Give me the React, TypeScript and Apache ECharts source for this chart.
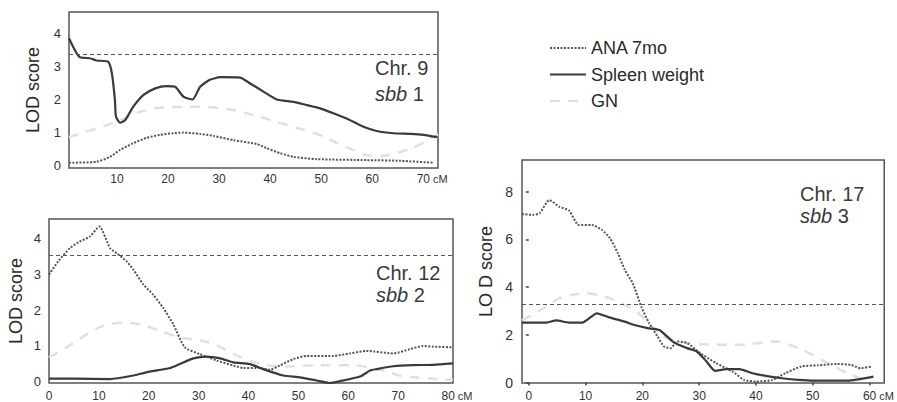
import React, { useEffect, useRef } from "react";
import * as echarts from "echarts";

const FONT = "'Liberation Sans', Arial, Helvetica, sans-serif";

const seriesNames = ["ANA 7mo", "Spleen weight", "GN"];

// Chr. 9 (sbb 1)
const chr9Spleen = [
  [0.6, 3.87], [2.7, 3.29], [4.7, 3.26], [6, 3.19], [8.3, 3.15], [9.0, 2.8], [9.6, 1.98], [9.8, 1.48],
  [10.6, 1.29], [11.6, 1.37], [13.2, 1.78], [15.2, 2.14], [17.5, 2.34], [19.7, 2.41], [21.4, 2.39],
  [23, 2.09], [24.8, 2.0], [26.3, 2.39], [28.2, 2.6], [30.2, 2.68], [34.1, 2.67], [36.1, 2.49],
  [38.7, 2.24], [41.3, 2.0], [44.6, 1.93], [47.2, 1.83], [49.8, 1.73], [52.4, 1.58], [55.7, 1.37],
  [58.3, 1.17], [60.9, 1.04], [64.2, 0.97], [67.5, 0.95], [70.1, 0.92], [72.7, 0.85],
];
const chr9Ana = [
  [0.6, 0.07], [6.0, 0.1], [8.6, 0.25], [10.6, 0.46], [13.1, 0.66], [15.8, 0.83], [18.4, 0.92],
  [21, 0.97], [23, 0.99], [26.3, 0.95], [28.9, 0.89], [32.8, 0.76], [37.4, 0.64], [39.4, 0.51],
  [42, 0.36], [44.6, 0.25], [49.2, 0.18], [59, 0.15], [65.5, 0.13], [72, 0.07],
];
const chr9Gn = [
  [0.6, 0.85], [4, 1.02], [8, 1.22], [12, 1.45], [15, 1.65], [20, 1.77], [26, 1.78], [32, 1.7],
  [37, 1.52], [42, 1.28], [46, 1.1], [50, 0.9], [53, 0.68], [56, 0.48], [59, 0.3], [62, 0.28],
  [65, 0.38], [68, 0.52], [72.9, 0.95],
];
const chr9Threshold = 3.39;

// Chr. 12 (sbb 2)
const chr12Ana = [
  [0, 3.0], [1.83, 3.37], [4.16, 3.74], [6.18, 3.93], [8.21, 4.07], [10.08, 4.35], [12.25, 3.74],
  [13.57, 3.6], [15.59, 3.37], [16.91, 3.14], [18.93, 2.72], [20.86, 2.44], [22.88, 2.07], [24.9, 1.61],
  [27.23, 0.96], [30.27, 0.77], [33.61, 0.59], [36.95, 0.45], [38.97, 0.38], [42.31, 0.38], [44.34, 0.33],
  [46.26, 0.45], [48.99, 0.63], [51.62, 0.72], [56.98, 0.72], [60.33, 0.79], [63.66, 0.86], [69.03, 0.79],
  [72.37, 0.91], [75.0, 1.0], [77.02, 0.98], [81, 0.96],
];
const chr12Spleen = [
  [0, 0.08], [4.87, 0.08], [12.25, 0.07], [16.91, 0.17], [19.54, 0.26], [24.3, 0.38], [26.22, 0.49],
  [28.95, 0.65], [31.58, 0.7], [34.32, 0.65], [36.95, 0.54], [40.29, 0.49], [42.92, 0.35], [46.97, 0.17],
  [50.31, 0.12], [53.65, 0.03], [56.28, -0.04], [58.3, 0.01], [62.35, 0.14], [64.37, 0.31], [65.69, 0.35],
  [69.03, 0.43], [72.98, 0.46], [77.02, 0.47], [81, 0.51],
];
const chr12Gn = [
  [0, 0.68], [3.55, 0.96], [7.6, 1.33], [10.84, 1.56], [14.89, 1.65], [18.23, 1.61], [22.27, 1.42],
  [26.22, 1.24], [30.88, 1.14], [33.61, 1.02], [36.95, 0.77], [42.31, 0.5], [46.97, 0.42], [53.65, 0.46],
  [60.33, 0.46], [67.01, 0.31], [70.34, 0.17], [76.92, 0.08], [81, 0.05],
];
const chr12Threshold = 3.53;

// Chr. 17 (sbb 3)
const chr17Ana = [
  [-1.2, 7.06], [0.7, 7.02], [1.9, 7.09], [3.6, 7.64], [5.4, 7.36], [7.1, 7.2], [8.8, 6.6],
  [11.1, 6.6], [12.9, 6.39], [14.3, 6.04], [15.7, 5.41], [16.9, 4.72], [18.3, 4.16], [19.8, 3.18],
  [21.2, 2.48], [22.7, 1.92], [23.8, 1.51], [25, 1.44], [26.1, 1.72], [27.9, 1.65], [30.2, 1.23],
  [33, 0.81], [35.9, 0.46], [37.9, 0.11], [40, 0.04], [42.9, 0.11], [45.2, 0.39], [48, 0.67],
  [50.9, 0.72], [54.4, 0.78], [56.7, 0.74], [58.4, 0.6], [60.4, 0.67],
];
const chr17Spleen = [
  [-1.2, 2.51], [3.1, 2.51], [4.8, 2.6], [7.1, 2.51], [9.4, 2.51], [12, 2.9], [14, 2.74],
  [16.9, 2.55], [18.6, 2.41], [20.9, 2.28], [23, 2.2], [25.6, 1.67], [27.9, 1.44], [29.6, 1.3],
  [31.3, 0.88], [32.8, 0.49], [34.8, 0.56], [37.1, 0.56], [39.4, 0.39], [41.7, 0.28], [44.6, 0.18],
  [47.5, 0.11], [50.3, 0.08], [56.1, 0.08], [60.7, 0.25],
];
const chr17Gn = [
  [-1.2, 2.6], [3.1, 3.18], [5.4, 3.53], [10, 3.74], [13.4, 3.6], [16.3, 3.32], [19.3, 2.9],
  [23.8, 1.92], [27, 1.7], [31, 1.6], [37.1, 1.58], [43.4, 1.72], [47.5, 1.44], [52, 0.9],
  [56, 0.4], [60, 0.05],
];
const chr17Threshold = 3.28;

const chr9XTicks = [10, 20, 30, 40, 50, 60, 70];
const chr12XTicks = [0, 10, 20, 30, 40, 50, 60, 70, 80];
const chr17XTicks = [0, 10, 20, 30, 40, 50, 60];
const chr9YTicks = [0, 1, 2, 3, 4];
const chr12YTicks = [0, 1, 2, 3, 4];
const chr17YTicks = [0, 2, 4, 6, 8];

const panelTitles = [
  ["Chr. 9", "sbb", " 1"],
  ["Chr. 12", "sbb", " 2"],
  ["Chr. 17", "sbb", " 3"],
];

export default function App() {
  const ref = useRef<HTMLDivElement>(null);

  useEffect(() => {
    if (!ref.current) return;
    const chart = echarts.init(ref.current, null, { renderer: "svg" });

    const grids = [
      { left: 69, top: 12, width: 369, height: 156 },
      { left: 49, top: 219, width: 404, height: 165 },
      { left: 522, top: 160, width: 369, height: 223 },
    ];
    const xRanges = [
      [0.6, 72.9],
      [0, 81],
      [-1.2, 62.6],
    ];
    const yRanges = [
      [-0.09, 4.67],
      [-0.04, 4.56],
      [-0.02, 9.32],
    ];
    const xTicks = [chr9XTicks, chr12XTicks, chr17XTicks];
    const yTicks = [chr9YTicks, chr12YTicks, chr17YTicks];
    const lastLabel = [70, 80, 60];
    const yNames = ["LOD score", "LOD score", "LO D score"];
    const yFont = [13, 13, 14];
    const yNameGap = [27, 24, 27];
    const showTicks = [false, false, true];

    const data = [
      { ana: chr9Ana, spleen: chr9Spleen, gn: chr9Gn, thr: chr9Threshold },
      { ana: chr12Ana, spleen: chr12Spleen, gn: chr12Gn, thr: chr12Threshold },
      { ana: chr17Ana, spleen: chr17Spleen, gn: chr17Gn, thr: chr17Threshold },
    ];

    const series: any[] = [];
    data.forEach((d, i) => {
      series.push({
        type: "line",
        name: seriesNames[2],
        xAxisIndex: i,
        yAxisIndex: i,
        data: d.gn,
        symbol: "none",
        smooth: 0.3,
        lineStyle: { color: "#e0e0e0", width: 2.5, type: [10, 8] },
        itemStyle: { color: "#e0e0e0" },
      });
      series.push({
        type: "line",
        name: seriesNames[0],
        xAxisIndex: i,
        yAxisIndex: i,
        data: d.ana,
        symbol: "none",
        smooth: 0.2,
        lineStyle: { color: "#555", width: 2, type: [2, 1.5] },
        itemStyle: { color: "#555" },
      });
      series.push({
        type: "line",
        name: seriesNames[1],
        xAxisIndex: i,
        yAxisIndex: i,
        data: d.spleen,
        symbol: "none",
        smooth: 0.2,
        lineStyle: { color: "#3a3a3a", width: 2.2, type: "solid" },
        itemStyle: { color: "#3a3a3a" },
        markLine: {
          silent: true,
          symbol: "none",
          label: { show: false },
          lineStyle: { color: "#555", width: 1.2, type: [4, 3] },
          data: [{ yAxis: d.thr }],
        },
      });
    });

    const option: any = {
      animation: false,
      backgroundColor: "#ffffff",
      textStyle: { fontFamily: FONT },
      legend: {
        orient: "vertical",
        left: 544,
        top: 34,
        itemWidth: 36,
        itemHeight: 18,
        itemGap: 8.5,
        data: seriesNames,
        selectedMode: false,
        itemStyle: {
          color: "rgba(0,0,0,0)",
          borderColor: "rgba(0,0,0,0)",
          borderWidth: 0,
          opacity: 0,
        },
        textStyle: { fontSize: 18, color: "#2a2a2a", fontFamily: FONT },
      },
      grid: grids.map((g) => ({
        ...g,
        show: true,
        borderColor: "#555",
        borderWidth: 1.5,
        backgroundColor: "transparent",
      })),
      xAxis: grids.map((_, i) => ({
        gridIndex: i,
        type: "value",
        min: xRanges[i][0],
        max: xRanges[i][1],
        splitLine: { show: false },
        axisLine: { show: false },
        axisTick: {
          show: showTicks[i],
          customValues: xTicks[i],
          length: 3,
          lineStyle: { color: "#444", width: 1.5 },
        },
        axisLabel: {
          customValues: xTicks[i],
          fontSize: 12,
          color: "#333",
          fontFamily: FONT,
          margin: i === 0 ? 5 : 7,
          formatter: (v: number) =>
            v === lastLabel[i] ? `{p|}{n|${v}}{u| cM}` : String(v),
          rich: {
            p: { width: 18 },
            n: { fontSize: 12, color: "#333", fontFamily: FONT },
            u: { fontSize: 11, color: "#333", fontFamily: FONT },
          },
        },
      })),
      yAxis: grids.map((_, i) => ({
        gridIndex: i,
        type: "value",
        min: yRanges[i][0],
        max: yRanges[i][1],
        splitLine: { show: false },
        axisLine: { show: false },
        axisTick: {
          show: showTicks[i],
          customValues: yTicks[i],
          length: 3,
          lineStyle: { color: "#444", width: 1.5 },
        },
        axisLabel: {
          customValues: yTicks[i],
          fontSize: yFont[i],
          color: "#333",
          fontFamily: FONT,
          margin: i === 2 ? 9 : 8,
        },
        name: yNames[i],
        nameLocation: "middle",
        nameGap: yNameGap[i],
        nameTextStyle: { fontSize: 18, color: "#2a2a2a", fontFamily: FONT },
      })),
      graphic: [
        ...[
          { x: 375, y1: 68, y2: 94 },
          { x: 376, y1: 273, y2: 295 },
          { x: 800, y1: 194, y2: 216 },
        ].flatMap((p, i) => [
          {
            type: "text",
            x: p.x,
            y: p.y1,
            style: {
              text: panelTitles[i][0],
              fontSize: 20,
              fontFamily: FONT,
              fill: "#3a3a3a",
              verticalAlign: "middle",
            },
          },
          {
            type: "text",
            x: p.x,
            y: p.y2,
            style: {
              text: `{i|${panelTitles[i][1]}}{r|${panelTitles[i][2]}}`,
              rich: {
                i: { fontSize: 20, fontStyle: "italic", fontFamily: FONT, fill: "#3a3a3a" },
                r: { fontSize: 20, fontFamily: FONT, fill: "#3a3a3a" },
              },
              verticalAlign: "middle",
              fill: "#3a3a3a",
            },
          },
        ]),
      ],
      series,
    };

    chart.setOption(option);
    return () => chart.dispose();
  }, []);

  return (
    <div
      ref={ref}
      style={{ position: "fixed", left: 0, top: 0, width: 897, height: 402, background: "#fff" }}
    />
  );
}
